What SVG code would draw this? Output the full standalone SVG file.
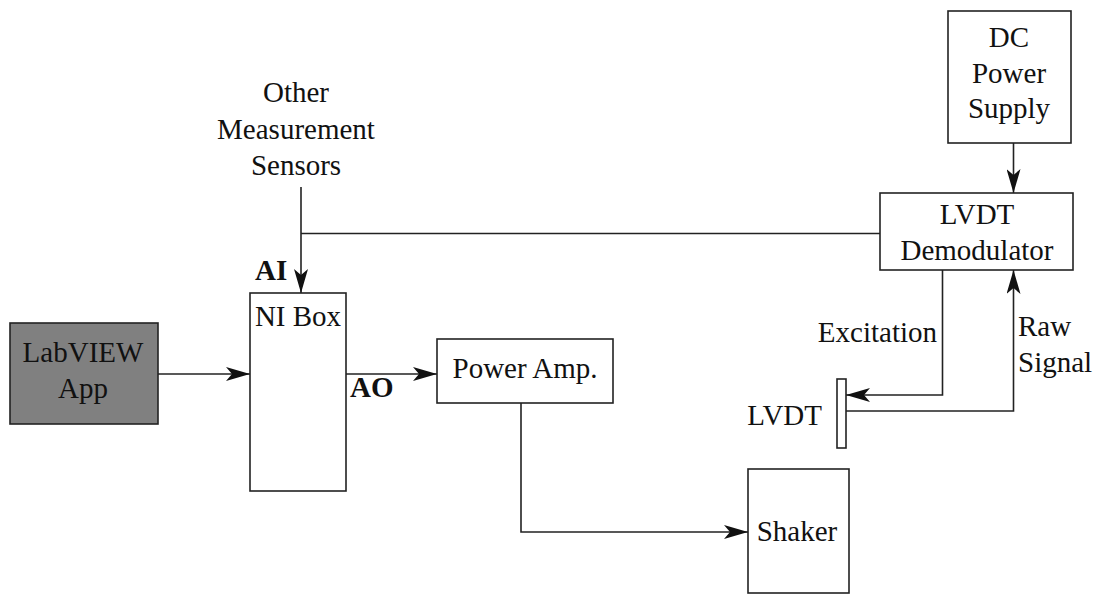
<svg xmlns="http://www.w3.org/2000/svg" width="1099" height="594" viewBox="0 0 1099 594">
<style>
.box{fill:#fff;stroke:#222;stroke-width:1.6}
.dark{fill:#808080;stroke:#222;stroke-width:1.6}
.ln{fill:none;stroke:#222;stroke-width:1.6}
.t{font-family:"Liberation Serif","Times New Roman",serif;font-size:29px;fill:#111}
.b{font-weight:bold}
.m{text-anchor:middle}
.e{text-anchor:end}
</style>
<defs>
<marker id="arr" markerUnits="userSpaceOnUse" markerWidth="24" markerHeight="14" refX="24" refY="7" orient="auto" viewBox="0 0 24 14">
<path d="M0,0 L24,7 L0,14 L6,7 Z" fill="#111"/>
</marker>
</defs>
<rect width="1099" height="594" fill="#fff"/>
<g id="connectors">
<line class="ln" x1="158" y1="374" x2="250" y2="374" marker-end="url(#arr)"/>
<line class="ln" x1="346" y1="374" x2="437" y2="374" marker-end="url(#arr)"/>
<line class="ln" x1="301" y1="187" x2="301" y2="293" marker-end="url(#arr)"/>
<line class="ln" x1="301" y1="233.5" x2="880" y2="233.5"/>
<line class="ln" x1="1013.5" y1="143" x2="1013.5" y2="193" marker-end="url(#arr)"/>
<polyline class="ln" points="942.5,270 942.5,395 846,395" marker-end="url(#arr)"/>
<polyline class="ln" points="846,411 1013.5,411 1013.5,270" marker-end="url(#arr)"/>
<polyline class="ln" points="521,403 521,532 748,532" marker-end="url(#arr)"/>
<text class="t b" x="255" y="280">AI</text>
<text class="t b" x="350" y="397">AO</text>
<text class="t e" x="937" y="342">Excitation</text>
<text class="t" x="1018" y="336">Raw</text>
<text class="t" x="1018" y="372">Signal</text>
</g>
<g id="sensors">
<text class="t m" x="296" y="102">Other</text>
<text class="t m" x="296" y="139">Measurement</text>
<text class="t m" x="296" y="175">Sensors</text>
</g>
<g id="labview">
<rect class="dark" x="10" y="323" width="148" height="101"/>
<text class="t m" x="83" y="362">LabVIEW</text>
<text class="t m" x="83" y="398">App</text>
</g>
<g id="nibox">
<rect class="box" x="250" y="293" width="96" height="198"/>
<text class="t m" x="298" y="326">NI Box</text>
</g>
<g id="poweramp">
<rect class="box" x="437" y="339" width="176" height="64"/>
<text class="t m" x="525" y="378">Power Amp.</text>
</g>
<g id="dcpower">
<rect class="box" x="948" y="11" width="123" height="132"/>
<text class="t m" x="1009" y="47">DC</text>
<text class="t m" x="1009" y="83">Power</text>
<text class="t m" x="1009" y="118">Supply</text>
</g>
<g id="demod">
<rect class="box" x="880" y="193" width="193" height="77"/>
<text class="t m" x="977" y="224">LVDT</text>
<text class="t m" x="977" y="260">Demodulator</text>
</g>
<g id="lvdt">
<rect class="box" x="837" y="379" width="9" height="69"/>
<text class="t e" x="822" y="425">LVDT</text>
</g>
<g id="shaker">
<rect class="box" x="748" y="469" width="101" height="124"/>
<text class="t m" x="797" y="541">Shaker</text>
</g>
</svg>
